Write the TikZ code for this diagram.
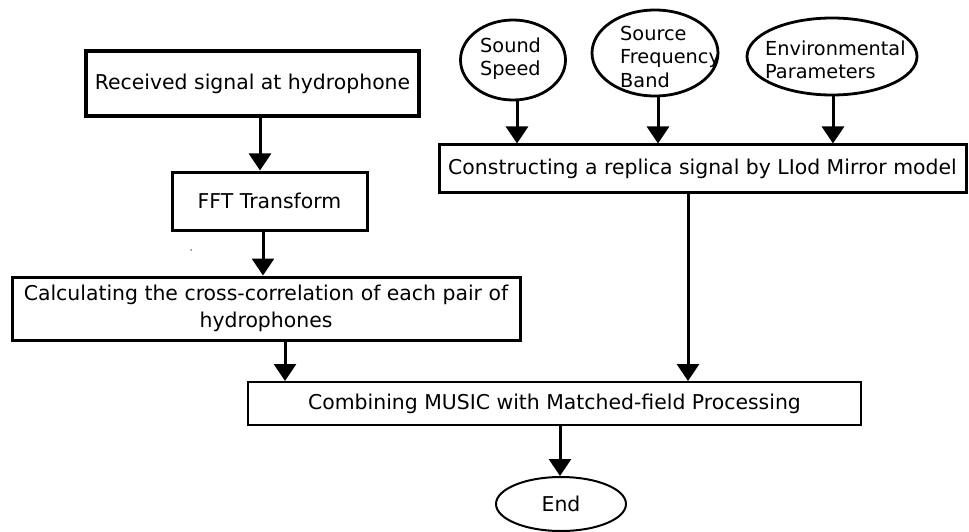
\documentclass[tikz,border=0pt]{standalone}
\usepackage{fontspec}
\setmainfont{DejaVu Sans}
\usetikzlibrary{arrows.meta,shapes.geometric}
\begin{document}
\begin{tikzpicture}[x=1pt,y=-1pt,
  box/.style={draw,line width=3pt,rectangle,inner sep=0pt,font=\fontsize{20.4}{26.5}\selectfont,align=center},
  oval/.style={draw,line width=2.8pt,ellipse,inner sep=0pt},
  lbl/.style={font=\fontsize{19.3}{23.5}\selectfont,align=left,inner sep=0pt,anchor=west},
  arr/.style={line width=3pt,-{Triangle[width=22pt,length=17pt]}}]
\useasboundingbox[fill=white] (0,0) rectangle (969,532);

% left column
\node[box,line width=3.5pt,minimum width=333pt,minimum height=65pt] (rec) at (252.5,83.5) {Received signal at hydrophone};
\node[box,minimum width=195pt,minimum height=58pt] (fft) at (269.5,201) {FFT Transform};
\node[box,minimum width=508pt,minimum height=63pt] (cal) at (266,308.5) {Calculating the cross-correlation of each pair of\\hydrophones};

% right column
\node[oval,minimum width=105pt,minimum height=80pt] (ss) at (513,60) {};
\node[lbl] (sst) at (480,58.5) {Sound\\Speed};
\node[oval,minimum width=126pt,minimum height=86pt] (sf) at (655,53) {};
\node[lbl] (sft) at (620,56.5) {Source\\Frequency\\Band};
\node[oval,minimum width=170pt,minimum height=77pt] (env) at (832,56.5) {};
\node[lbl] (envt) at (765,60) {Environmental\\Parameters};
\node[box,minimum width=527pt,minimum height=47pt] (con) at (702.5,168.5) {Constructing a replica signal by LIod Mirror model};

% bottom
\node[box,line width=2pt,minimum width=613pt,minimum height=43pt] (com) at (554.5,403.5) {Combining MUSIC with Matched-field Processing};
\node[draw,line width=2pt,ellipse,inner sep=0pt,minimum width=130pt,minimum height=54pt,font=\fontsize{20.4}{24}\selectfont] (end) at (561,504) {End};

% stray dot
\fill[gray] (191,250) circle (1pt);

% x positions of connectors
\coordinate (xa) at (260,0);
\coordinate (xb) at (263,0);
\coordinate (xc) at (285,0);
\coordinate (xd) at (688,0);
\coordinate (xe) at (560,0);
\coordinate (xf) at (517,0);
\coordinate (xg) at (658,0);
\coordinate (xh) at (833,0);

\draw[arr] (rec.south -| xa) -- (fft.north -| xa);
\draw[arr] (fft.south -| xb) -- (cal.north -| xb);
\draw[arr] (cal.south -| xc) -- (com.north -| xc);
\draw[arr] (con.south -| xd) -- (com.north -| xd);
\draw[arr] (com.south -| xe) -- (end.north -| xe);
\draw[arr] (ss.south -| xf) -- (con.north -| xf);
\draw[arr] (sf.south -| xg) -- (con.north -| xg);
\draw[arr] (env.south -| xh) -- (con.north -| xh);
\end{tikzpicture}
\end{document}
